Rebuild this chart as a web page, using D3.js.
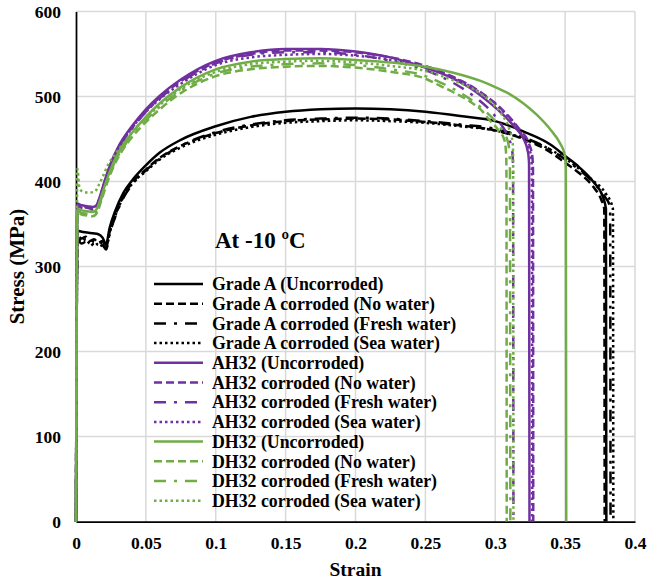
<!DOCTYPE html>
<html>
<head>
<meta charset="utf-8">
<script src="https://cdn.jsdelivr.net/npm/d3@7/dist/d3.min.js"></script>
<style>
  html, body { margin: 0; padding: 0; background: #fff; }
  svg { display: block; }
  text { font-family: "Liberation Serif", "Times New Roman", serif; font-weight: bold; fill: #000; }
</style>
</head>
<body>
<svg id="chart" width="647" height="581"></svg>
<script>
// ---------------- DATA ----------------
const xTicks = [0, 0.05, 0.1, 0.15, 0.2, 0.25, 0.3, 0.35, 0.4];
const xTickLabels = ["0", "0.05", "0.1", "0.15", "0.2", "0.25", "0.3", "0.35", "0.4"];
const yTicks = [0, 100, 200, 300, 400, 500, 600];
const yTickLabels = ["0", "100", "200", "300", "400", "500", "600"];

const seriesNames = [
  "Grade A (Uncorroded)",
  "Grade A corroded (No water)",
  "Grade A corroded (Fresh water)",
  "Grade A corroded (Sea water)",
  "AH32 (Uncorroded)",
  "AH32 corroded (No water)",
  "AH32 corroded (Fresh water)",
  "AH32 corroded (Sea water)",
  "DH32 (Uncorroded)",
  "DH32 corroded (No water)",
  "DH32 corroded (Fresh water)",
  "DH32 corroded (Sea water)"
];
const seriesColors = ["#000000","#000000","#000000","#000000",
                      "#7030A0","#7030A0","#7030A0","#7030A0",
                      "#70AD47","#70AD47","#70AD47","#70AD47"];
const seriesStyles = ["solid","dash","dashdot","dot","solid","dash","dashdot","dot","solid","dash","dashdot","dot"];

// [strain, stress (MPa)]
const gradeA_uncorroded = [[0,0],[0.001,342],[0.004,341],[0.008,340],[0.012,339],[0.016,338],[0.019,334],[0.0215,326],[0.024,345],[0.028,365],[0.034,387],[0.04,401],[0.05,419],[0.06,434],[0.075,449],[0.1,465],[0.125,476],[0.15,482],[0.175,485],[0.2,486],[0.225,485],[0.25,482],[0.275,477],[0.3,471],[0.32,459],[0.34,443],[0.35,430],[0.36,417],[0.37,400],[0.377,382],[0.3792,368],[0.3795,0]];
const gradeA_noWater = [[0,0],[0.001,336],[0.004,333],[0.007,335],[0.01,330],[0.013,332],[0.016,328],[0.019,330],[0.0215,322],[0.024,340],[0.028,360],[0.034,383],[0.04,398],[0.05,414],[0.06,428],[0.075,442],[0.1,457],[0.125,466],[0.15,471],[0.175,473],[0.2,474],[0.225,473],[0.25,470],[0.275,466],[0.3,460],[0.32,450],[0.34,434],[0.35,422],[0.36,410],[0.37,394],[0.376,378],[0.378,368],[0.3783,0]];
const gradeA_freshWater = [[0,0],[0.001,331],[0.004,327],[0.007,329],[0.01,324],[0.013,327],[0.016,323],[0.019,325],[0.0215,320],[0.024,338],[0.028,358],[0.034,381],[0.04,396],[0.05,413],[0.06,427],[0.075,442],[0.1,458],[0.125,467],[0.15,472],[0.175,474],[0.2,475],[0.225,474],[0.25,471],[0.275,467],[0.3,462],[0.32,452],[0.34,437],[0.35,426],[0.36,414],[0.37,399],[0.378,383],[0.3822,370],[0.3825,0]];
const gradeA_seaWater = [[0,0],[0.001,334],[0.004,330],[0.007,332],[0.01,327],[0.013,330],[0.016,325],[0.019,328],[0.0215,321],[0.024,339],[0.028,359],[0.034,382],[0.04,397],[0.05,412],[0.06,426],[0.075,440],[0.1,455],[0.125,464],[0.15,469],[0.175,471],[0.2,472],[0.225,471],[0.25,469],[0.275,465],[0.3,460],[0.32,451],[0.34,437],[0.35,427],[0.36,415],[0.37,401],[0.379,386],[0.3842,368],[0.3845,0]];

const ah32_uncorroded = [[0,0],[0.001,374],[0.004,372],[0.008,371],[0.012,370],[0.0145,372],[0.017,382],[0.02,398],[0.025,422],[0.03,440],[0.04,465],[0.05,485],[0.06,501],[0.075,520],[0.1,542],[0.125,552],[0.15,556],[0.175,556],[0.2,553],[0.225,546],[0.25,534],[0.27,521],[0.282,510],[0.295,494],[0.306,478],[0.315,462],[0.32,451],[0.3235,434],[0.3242,420],[0.3245,0]];
const ah32_noWater = [[0,0],[0.001,372],[0.004,370],[0.008,369],[0.012,368],[0.0145,370],[0.017,380],[0.02,396],[0.025,420],[0.03,438],[0.04,463],[0.05,483],[0.06,499],[0.075,518],[0.1,540],[0.125,550],[0.15,554],[0.175,554],[0.2,552],[0.225,546],[0.25,536],[0.27,523],[0.285,510],[0.3,492],[0.31,476],[0.318,460],[0.324,445],[0.3265,430],[0.327,415],[0.3272,0]];
const ah32_freshWater = [[0,0],[0.001,372],[0.004,369],[0.008,368],[0.012,367],[0.0145,369],[0.017,379],[0.02,395],[0.025,419],[0.03,437],[0.04,462],[0.05,482],[0.06,498],[0.075,517],[0.1,539],[0.125,549],[0.15,552],[0.175,552],[0.2,549],[0.225,542],[0.25,531],[0.27,516],[0.285,500],[0.295,486],[0.303,470],[0.309,453],[0.312,438],[0.3127,420],[0.313,0]];
const ah32_seaWater = [[0,0],[0.001,373],[0.004,371],[0.008,370],[0.012,369],[0.0145,371],[0.017,381],[0.02,397],[0.025,421],[0.03,439],[0.04,463],[0.05,482],[0.06,497],[0.075,515],[0.1,537],[0.125,546],[0.15,549],[0.175,550],[0.2,548],[0.225,543],[0.25,534],[0.27,522],[0.285,509],[0.3,491],[0.31,475],[0.318,458],[0.3235,442],[0.3258,428],[0.3262,412],[0.3265,0]];

const dh32_uncorroded = [[0,0],[0.001,368],[0.004,366],[0.008,365],[0.012,364],[0.015,368],[0.018,382],[0.022,402],[0.027,423],[0.033,441],[0.04,457],[0.05,476],[0.06,492],[0.075,511],[0.1,532],[0.125,541],[0.15,544],[0.175,545],[0.2,543],[0.225,540],[0.25,535],[0.27,528],[0.29,518],[0.3,511],[0.31,503],[0.32,492],[0.33,478],[0.34,460],[0.346,446],[0.3498,431],[0.3505,416],[0.3508,0]];
const dh32_noWater = [[0,0],[0.001,364],[0.004,361],[0.008,360],[0.012,359],[0.015,363],[0.018,377],[0.022,397],[0.027,418],[0.033,436],[0.04,452],[0.05,470],[0.06,485],[0.075,504],[0.1,524],[0.125,532],[0.15,535],[0.175,536],[0.2,534],[0.225,529],[0.25,521],[0.26,513],[0.27,505],[0.282,494],[0.29,484],[0.296,472],[0.302,461],[0.3065,449],[0.3078,432],[0.308,415],[0.3082,0]];
const dh32_freshWater = [[0,0],[0.001,366],[0.004,363],[0.008,362],[0.012,361],[0.015,365],[0.018,379],[0.022,399],[0.027,420],[0.033,438],[0.04,454],[0.05,472],[0.06,488],[0.075,507],[0.1,527],[0.125,535],[0.15,538],[0.175,539],[0.2,537],[0.225,532],[0.25,524],[0.26,517],[0.27,509],[0.282,497],[0.292,484],[0.3,471],[0.305,460],[0.309,447],[0.3103,432],[0.3105,415],[0.3108,0]];
const dh32_seaWater = [[0,0],[0.001,415],[0.0025,392],[0.005,388],[0.009,387],[0.0135,388],[0.016,395],[0.019,405],[0.023,420],[0.028,432],[0.034,445],[0.04,458],[0.05,474],[0.06,490],[0.075,509],[0.1,529],[0.125,538],[0.15,541],[0.175,542],[0.2,540],[0.225,536],[0.25,530],[0.27,519],[0.289,504],[0.298,492],[0.305,478],[0.31,462],[0.3125,445],[0.3128,428],[0.313,0]];

const seriesData = [gradeA_uncorroded, gradeA_noWater, gradeA_freshWater, gradeA_seaWater,
                    ah32_uncorroded, ah32_noWater, ah32_freshWater, ah32_seaWater,
                    dh32_uncorroded, dh32_noWater, dh32_freshWater, dh32_seaWater];

// ---------------- LAYOUT ----------------
const W = 647, H = 581;
const margin = { left: 76, right: 12, top: 11.5, bottom: 59.5 };
const x = d3.scaleLinear().domain([0, 0.4]).range([margin.left, W - margin.right]);
const y = d3.scaleLinear().domain([0, 600]).range([H - margin.bottom, margin.top]);

const dashFor = { solid: null, dash: "8,4", dashdot: "12,8,3,8", dot: "2.5,3" };
const svg = d3.select("#chart");

// gridlines
svg.append("g").selectAll("line.vg").data(xTicks.slice(1)).join("line")
  .attr("x1", d => x(d)).attr("x2", d => x(d))
  .attr("y1", y(0)).attr("y2", y(600))
  .attr("stroke", "#d9d9d9").attr("stroke-width", 1.5);
svg.append("g").selectAll("line.hg").data(yTicks.slice(1)).join("line")
  .attr("x1", x(0)).attr("x2", x(0.4))
  .attr("y1", d => y(d)).attr("y2", d => y(d))
  .attr("stroke", "#d9d9d9").attr("stroke-width", 1.5);

// axes (drawn beneath the series, as in the original)
const xAxis = d3.axisBottom(x).tickValues(xTicks).tickFormat((d, i) => xTickLabels[i]).tickSize(0).tickPadding(15);
const yAxis = d3.axisLeft(y).tickValues(yTicks).tickFormat((d, i) => yTickLabels[i]).tickSize(0).tickPadding(15);
const gx = svg.append("g").attr("transform", `translate(0,${y(0)})`).call(xAxis);
const gy = svg.append("g").attr("transform", `translate(${x(0)},0)`).call(yAxis);
[gx, gy].forEach(g => {
  g.select(".domain").attr("stroke", "#000").attr("stroke-width", 1.75);
  g.selectAll("text").style("font-family", "'Liberation Serif', 'Times New Roman', serif")
    .style("font-weight", "bold").style("font-size", "17.5px").attr("fill", "#000");
});

// series
const line = d3.line().x(d => x(d[0])).y(d => y(d[1])).curve(d3.curveMonotoneX);
const plot = svg.append("g");
seriesData.forEach((data, i) => {
  plot.append("path")
    .datum(data)
    .attr("d", line)
    .attr("fill", "none")
    .attr("stroke", seriesColors[i])
    .attr("stroke-width", 2.5)
    .attr("stroke-dasharray", dashFor[seriesStyles[i]])
    .attr("stroke-linejoin", "round");
});

// axis titles
svg.append("text").attr("x", (x(0) + x(0.4)) / 2).attr("y", 576)
  .attr("text-anchor", "middle").style("font-size", "19.5px").text("Strain");
svg.append("text").attr("transform", `translate(24,${(y(0) + y(600)) / 2}) rotate(-90)`)
  .attr("text-anchor", "middle").style("font-size", "21px").text("Stress (MPa)");

// annotation
svg.append("text").attr("x", 215).attr("y", 248).style("font-size", "23px").text("At -10 ºC");

// legend
const legend = svg.append("g");
const legX0 = 154, legX1 = 203, legTextX = 212, legY0 = 284, legDY = 19.7;
seriesNames.forEach((name, i) => {
  const yy = legY0 + i * legDY;
  legend.append("line").attr("x1", legX0).attr("x2", legX1).attr("y1", yy).attr("y2", yy)
    .attr("stroke", seriesColors[i]).attr("stroke-width", 2.5)
    .attr("stroke-dasharray", dashFor[seriesStyles[i]]);
  legend.append("text").attr("x", legTextX).attr("y", yy).attr("dy", "0.35em")
    .style("font-size", "17.8px").text(name);
});
</script>
</body>
</html>
